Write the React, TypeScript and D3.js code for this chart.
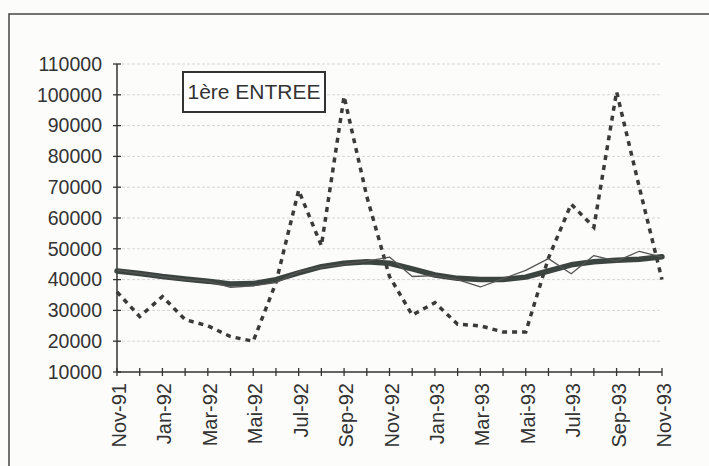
import { useMemo } from "react";
import * as d3 from "d3";

// months Nov-91 .. Nov-93
const MONTHS = [
  "Nov-91", "Déc-91", "Jan-92", "Fév-92", "Mar-92", "Avr-92", "Mai-92", "Jun-92",
  "Jul-92", "Aoû-92", "Sep-92", "Oct-92", "Nov-92", "Déc-92", "Jan-93", "Fév-93",
  "Mar-93", "Avr-93", "Mai-93", "Jun-93", "Jul-93", "Aoû-93", "Sep-93", "Oct-93", "Nov-93",
];

const TICK_LABELS = [
  "Nov-91", "Jan-92", "Mar-92", "Mai-92", "Jul-92", "Sep-92", "Nov-92",
  "Jan-93", "Mar-93", "Mai-93", "Jul-93", "Sep-93", "Nov-93",
];

// raw series (dashed)
const RAW = [
  36000, 28000, 34500, 27000, 25000, 21500, 20000, 39000, 69000, 51000, 99500, 67000,
  41000, 28500, 32500, 25500, 25000, 23000, 23000, 47000, 64500, 57000, 101000, 70000, 40000,
];

// seasonally adjusted (thin)
const ADJUSTED = [
  43000, 42000, 41000, 40000, 39500, 37500, 38000, 39000, 42500, 44000, 45000, 46000,
  47300, 41000, 41300, 40000, 37600, 40300, 43000, 46800, 41900, 47800, 46000, 49200, 47300,
];

// trend (thick)
const TREND = [
  42800, 42000, 41000, 40200, 39500, 38600, 38700, 40000, 42200, 44200, 45300, 45800,
  45300, 43500, 41500, 40400, 40000, 40000, 40800, 42800, 44800, 45800, 46300, 46600, 47400,
];

const Y_TICKS = d3.range(10000, 110001, 10000);
const LEGEND_TEXT = "1ère ENTREE";

const W = 709;
const H = 466;
const PLOT = { left: 117, right: 662, top: 64, bottom: 372 };
const FONT = "'Liberation Sans', Arial, sans-serif";
const INK = "#333";

export default function App() {
  const x = useMemo(
    () => d3.scalePoint<string>().domain(MONTHS).range([PLOT.left, PLOT.right]),
    []
  );
  const y = useMemo(
    () => d3.scaleLinear().domain([10000, 110000]).range([PLOT.bottom, PLOT.top]),
    []
  );

  const line = d3
    .line<number>()
    .x((_, i) => x(MONTHS[i]) ?? 0)
    .y((d) => y(d));

  return (
    <svg
      width={W}
      height={H}
      style={{ position: "absolute", left: 0, top: 0, background: "#fcfcfa" }}
      fontFamily={FONT}
    >
      {/* frame */}
      <path d={`M9,${H} V14 H${W}`} fill="none" stroke="#444" strokeWidth={1.5} />

      {/* gridlines */}
      {Y_TICKS.slice(1).map((t) => (
        <line
          key={`g${t}`}
          x1={PLOT.left}
          x2={PLOT.right}
          y1={y(t)}
          y2={y(t)}
          stroke="#d6d6d6"
          strokeWidth={1}
          strokeDasharray="3 2"
        />
      ))}

      {/* y axis */}
      <line x1={PLOT.left} x2={PLOT.left} y1={y(110000)} y2={y(10000)} stroke={INK} strokeWidth={1.5} />
      {Y_TICKS.map((t) => (
        <g key={`y${t}`}>
          <line x1={PLOT.left - 4} x2={PLOT.left + 4} y1={y(t)} y2={y(t)} stroke={INK} strokeWidth={1.3} />
          <text
            x={PLOT.left - 15}
            y={y(t)}
            dy="0.35em"
            textAnchor="end"
            fontSize={19.5}
            fill={INK}
          >
            {t}
          </text>
        </g>
      ))}

      {/* x axis */}
      <line x1={PLOT.left} x2={PLOT.right} y1={y(10000)} y2={y(10000)} stroke={INK} strokeWidth={1.5} />
      {MONTHS.map((m) => (
        <line
          key={`xt${m}`}
          x1={x(m)}
          x2={x(m)}
          y1={y(10000) - 4}
          y2={y(10000) + 4}
          stroke={INK}
          strokeWidth={1.3}
        />
      ))}
      {TICK_LABELS.map((m) => (
        <text
          key={`xl${m}`}
          transform={`translate(${(x(m) ?? 0) + 2},${PLOT.bottom + 11}) rotate(-90)`}
          dy="0.35em"
          textAnchor="end"
          fontSize={20}
          fill={INK}
        >
          {m}
        </text>
      ))}

      {/* series */}
      <path d={line(RAW) ?? ""} fill="none" stroke="#3a3a3a" strokeWidth={3.5} strokeDasharray="5 5" />
      <path d={line(TREND) ?? ""} fill="none" stroke="#3b4440" strokeWidth={5.5} strokeLinejoin="round" strokeLinecap="round" />
      <path d={line(ADJUSTED) ?? ""} fill="none" stroke="#555" strokeWidth={1.3} strokeLinejoin="round" />

      {/* legend box */}
      <rect x={183} y={72} width={142} height={40} fill="#fff" stroke={INK} strokeWidth={2} />
      <text x={254} y={92} dy="0.35em" textAnchor="middle" fontSize={21} fill={INK}>
        {LEGEND_TEXT}
      </text>
    </svg>
  );
}
